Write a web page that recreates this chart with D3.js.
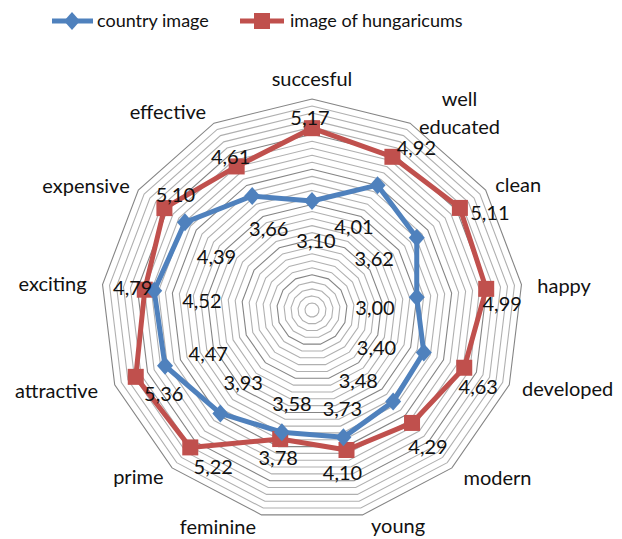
<!DOCTYPE html>
<html>
<head>
<meta charset="utf-8">
<script src="https://cdn.jsdelivr.net/npm/d3@7"></script>
<style>
body { margin: 0; background: #fff; }
text { font-family: Lato, "Noto Sans", sans-serif; fill: #111; }
</style>
</head>
<body>
<script>
//data
var categories = ["succesful", "well educated", "clean", "happy", "developed", "modern", "young", "feminine", "prime", "attractive", "exciting", "expensive", "effective"];
var countryImage = [3.10, 4.01, 3.62, 3.00, 3.40, 3.48, 3.73, 3.58, 3.93, 4.47, 4.52, 4.39, 3.66];
var hungaricums = [5.17, 4.92, 5.11, 4.99, 4.63, 4.29, 4.10, 3.78, 5.22, 5.36, 4.79, 5.10, 4.61];
var seriesNames = ["country image", "image of hungaricums"];

//label nudges (dx, dy), layout only
var redNudge = [[-2, -10], [24, -9], [30, 5], [16, 15], [14, 19], [16, 24], [-4, 23], [-2, 19], [23, 20], [28, 17], [-12, -2], [11, -13], [-6, -9]];
var blueNudge = [[4, -2], [-4, 5], [-8, -3], [0, 6], [-8, 10], [-7, 11], [9, 12], [0, 13], [-5, 1], [4, 3], [6, 5], [-3, 11], [-3, -4]];
var catNudge = [[0, 6], [0, 0], [-6, 13], [-3, 11], [-5, 4], [-1, 3], [4, 0], [-1, 1], [4, 2], [1, 6], [3, 9], [7, 14], [1, 13]];

(function(){

var width = 622,
	height = 539,
	cx = 312,
	cy = 310,
	outerR = 211,
	n = categories.length;

var svg = d3.select("body")
	.append("svg")
	.attr("width", width)
	.attr("height", height);

var rScale = d3.scaleLinear()
	.domain([0, 6])
	.range([0, outerR]);

function angle(i){
	return i * 2 * Math.PI / n;
}
function pt(i, r){
	return [cx + r * Math.sin(angle(i)), cy - r * Math.cos(angle(i))];
}

//gridline rings every 0.2, darker every 1
var ringVals = d3.range(1, 31).map(function(k){ return k * 0.2; });
svg.selectAll(".ring")
	.data(ringVals)
	.enter()
	.append("polygon")
	.attr("class", "ring")
	.attr("points", function(v){
		return d3.range(n).map(function(i){ return pt(i, rScale(v)).join(","); }).join(" ");
	})
	.attr("fill", "none")
	.attr("stroke", function(v, i){ return (i + 1) % 5 == 0 ? "#858585" : "#b0b0b0"; })
	.attr("stroke-width", 1.1);

//category labels
var catLabels = svg.selectAll(".cat")
	.data(categories)
	.enter()
	.append("text")
	.attr("class", "cat")
	.style("font-size", "20px");

catLabels.each(function(d, i){
	var s = Math.sin(angle(i)),
		p = pt(i, outerR + 19),
		lines = d == "well educated" ? ["well", "educated"] : [d],
		el = d3.select(this);
	lines.forEach(function(l){
		el.append("tspan").text(l);
	});
	var w = d3.max(el.selectAll("tspan").nodes(), function(t){ return t.getComputedTextLength(); });
	var x = p[0] + catNudge[i][0];
	if (s > 0.2) x += w / 2;
	else if (s < -0.2) x -= w / 2;
	var y0 = p[1] + catNudge[i][1];
	el.selectAll("tspan")
		.attr("text-anchor", "middle")
		.attr("x", x)
		.attr("y", function(t, k){ return y0 + k * 28; });
});

var line = d3.line();

function seriesPoints(vals){
	return vals.map(function(v, i){ return pt(i, rScale(v)); });
}

//red series
var redPts = seriesPoints(hungaricums);
svg.append("path")
	.attr("d", line(redPts) + "Z")
	.attr("fill", "none")
	.attr("stroke", "#C0504D")
	.attr("stroke-width", 5)
	.attr("stroke-linejoin", "round");

//blue series
var bluePts = seriesPoints(countryImage);
svg.append("path")
	.attr("d", line(bluePts) + "Z")
	.attr("fill", "none")
	.attr("stroke", "#4F81BD")
	.attr("stroke-width", 5)
	.attr("stroke-linejoin", "round");

svg.selectAll(".sq")
	.data(redPts)
	.enter()
	.append("rect")
	.attr("class", "sq")
	.attr("x", function(d){ return d[0] - 8; })
	.attr("y", function(d){ return d[1] - 8; })
	.attr("width", 16)
	.attr("height", 16)
	.attr("fill", "#C0504D");

svg.selectAll(".dia")
	.data(bluePts)
	.enter()
	.append("path")
	.attr("class", "dia")
	.attr("d", function(d){
		return "M" + d[0] + "," + (d[1] - 9) + "L" + (d[0] + 8) + "," + d[1] + "L" + d[0] + "," + (d[1] + 9) + "L" + (d[0] - 8) + "," + d[1] + "Z";
	})
	.attr("fill", "#4F81BD");

function fmt(v){
	return v.toFixed(2).replace(".", ",");
}

//blue data labels sit inside the polygon
svg.selectAll(".blab")
	.data(countryImage)
	.enter()
	.append("text")
	.attr("class", "blab")
	.attr("text-anchor", "middle")
	.style("font-size", "20px")
	.attr("x", function(v, i){ return pt(i, rScale(v) - 42)[0] + blueNudge[i][0]; })
	.attr("y", function(v, i){ return pt(i, rScale(v) - 42)[1] + 7 + blueNudge[i][1]; })
	.text(fmt);

//red data labels next to markers
svg.selectAll(".rlab")
	.data(hungaricums)
	.enter()
	.append("text")
	.attr("class", "rlab")
	.attr("text-anchor", "middle")
	.style("font-size", "20px")
	.attr("x", function(v, i){ return redPts[i][0] + redNudge[i][0]; })
	.attr("y", function(v, i){ return redPts[i][1] + redNudge[i][1] + 7; })
	.text(fmt);

//legend
var legend = svg.append("g");
legend.append("line")
	.attr("x1", 52).attr("x2", 93).attr("y1", 21).attr("y2", 21)
	.attr("stroke", "#4F81BD").attr("stroke-width", 5);
legend.append("path")
	.attr("d", "M72,12L80,21L72,30L64,21Z")
	.attr("fill", "#4F81BD");
legend.append("text")
	.attr("x", 97).attr("y", 27)
	.style("font-size", "18px")
	.text(seriesNames[0]);
legend.append("line")
	.attr("x1", 240).attr("x2", 284).attr("y1", 21).attr("y2", 21)
	.attr("stroke", "#C0504D").attr("stroke-width", 5);
legend.append("rect")
	.attr("x", 254).attr("y", 13).attr("width", 16).attr("height", 16)
	.attr("fill", "#C0504D");
legend.append("text")
	.attr("x", 290).attr("y", 27)
	.style("font-size", "18px")
	.text(seriesNames[1]);

})();
</script>
</body>
</html>
